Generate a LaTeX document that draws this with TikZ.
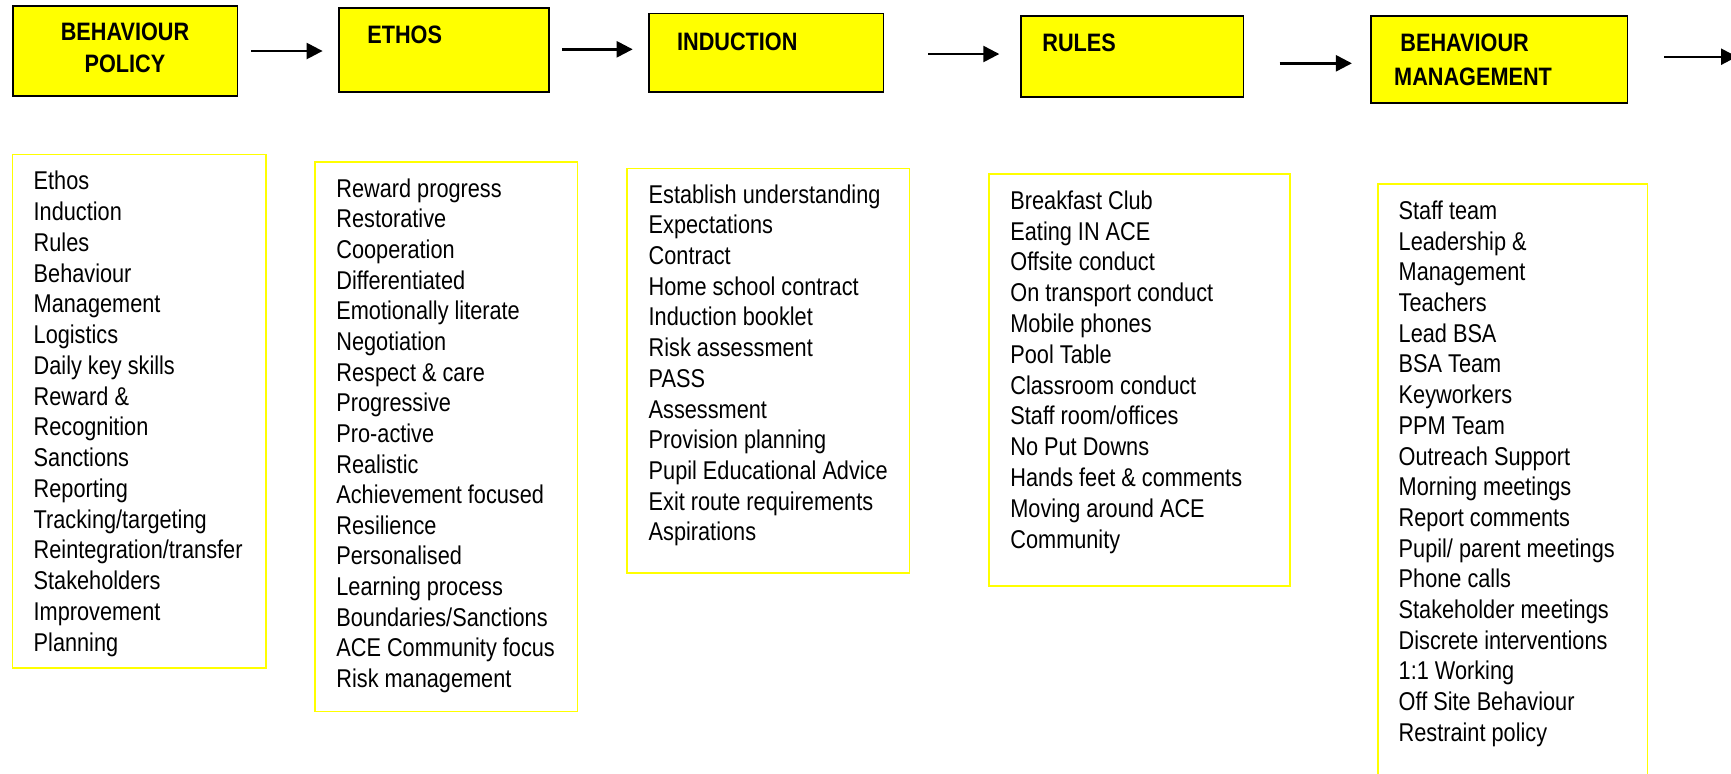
\documentclass[tikz,border=0pt]{standalone}
\usepackage{fontspec}
\setmainfont{Liberation Sans}
\newfontfamily\bodyfont[FakeStretch=0.845]{Liberation Sans}
\newfontfamily\headfont[FakeStretch=0.86]{Liberation Sans}
\usetikzlibrary{fit,arrows.meta}
\definecolor{hyellow}{HTML}{FFFF00}
\begin{document}
\begin{tikzpicture}[x=0.5pt,y=-0.5pt,
  hbox/.style={draw=black, line width=0.8pt, fill=hyellow, inner sep=0pt},
  lbox/.style={draw=hyellow, line width=0.8pt, inner sep=0pt},
  htext/.style={font=\headfont\bfseries\fontsize{12.6pt}{15pt}\selectfont, inner sep=0pt},
  item/.style={font=\bodyfont\fontsize{12.85pt}{15pt}\selectfont, inner sep=0pt, anchor=base west},
  flow/.style={line width=1.2pt, -{Triangle[length=8pt,width=8pt]}}]
\useasboundingbox (0,0) rectangle (1731,773);

% header boxes
\node[hbox, fit={(12.7,5.7) (237.3,96)}] (bp) {};
\node[htext, anchor=base] (bpt1) at (125,40.7) {BEHAVIOUR};
\node[htext, anchor=base] (bpt2) at (125,72.7) {POLICY};
\node[hbox, fit={(338.7,7.7) (549.2,92)}] (eth) {};
\node[htext, anchor=base west] (etht) at (367,43.3) {ETHOS};
\node[hbox, fit={(648.8,13.3) (883.4,92)}] (ind) {};
\node[htext, anchor=base west] (indt) at (676.7,50) {INDUCTION};
\node[hbox, fit={(1021,15.7) (1243.4,96.7)}] (rul) {};
\node[htext, anchor=base west] (rult) at (1042,51.7) {RULES};
\node[hbox, fit={(1371.2,15.7) (1627.5,103)}] (bm) {};
\node[htext, anchor=base west] (bmt1) at (1400,51.7) {BEHAVIOUR};
\node[htext, anchor=base west] (bmt2) at (1393.8,85) {MANAGEMENT};

% arrows
\coordinate (a1s) at (251.4,51);   \coordinate (a1e) at (322.6,51);
\coordinate (a2s) at (561.9,49.3); \coordinate (a2e) at (632.7,49.3);
\coordinate (a3s) at (928.2,54);   \coordinate (a3e) at (999.3,54);
\coordinate (a4s) at (1279.7,63.3);\coordinate (a4e) at (1351.9,63.3);
\coordinate (a5s) at (1664,56.7);  \coordinate (a5e) at (1737,56.7);
\draw[flow] (a1s) -- (a1e);
\draw[flow] (a2s) -- (a2e);
\draw[flow] (a3s) -- (a3e);
\draw[flow] (a4s) -- (a4e);
\draw[flow] (a5s) -- (a5e);

% list boxes
\node[lbox, fit={(12.3,154.5) (265.7,668)}] (l1) {};
\node[lbox, fit={(315,162.2) (577.3,711.6)}] (l2) {};
\node[lbox, fit={(626.7,168.3) (909.3,572.7)}] (l3) {};
\node[lbox, fit={(989,174) (1290,586)}] (l4) {};
\node[lbox, fit={(1377.7,184.2) (1647.3,790)}] (l5) {};

\foreach \t [count=\i] in {Ethos, Induction, Rules, Behaviour, Management, Logistics, Daily key skills, Reward \&, Recognition, Sanctions, Reporting, Tracking/targeting, Reintegration/transfer, Stakeholders, Improvement, Planning}
  \node[item] (p\i) at (33.3,{189.9+(\i-1)*30.74}) {\t};

\foreach \t [count=\i] in {Reward progress, Restorative, Cooperation, Differentiated, Emotionally literate, Negotiation, Respect \& care, Progressive, Pro-active, Realistic, Achievement focused, Resilience, Personalised, Learning process, Boundaries/Sanctions, ACE Community focus, Risk management}
  \node[item] (e\i) at (336,{197.3+(\i-1)*30.64}) {\t};

\foreach \t [count=\i] in {Establish understanding, Expectations, Contract, Home school contract, Induction booklet, Risk assessment, PASS, Assessment, Provision planning, Pupil Educational Advice, Exit route requirements, Aspirations}
  \node[item] (n\i) at (648.3,{203.3+(\i-1)*30.67}) {\t};

\foreach \t [count=\i] in {Breakfast Club, Eating IN ACE, Offsite conduct, On transport conduct, Mobile phones, Pool Table, Classroom conduct, Staff room/offices, No Put Downs, Hands feet \& comments, Moving around ACE, Community}
  \node[item] (r\i) at (1010,{209.3+(\i-1)*30.8}) {\t};

\foreach \t [count=\i] in {Staff team, Leadership \&, Management, Teachers, Lead BSA, BSA Team, Keyworkers, PPM Team, Outreach Support, Morning meetings, Report comments, Pupil/ parent meetings, Phone calls, Stakeholder meetings, Discrete interventions, 1:1 Working, Off Site Behaviour, Restraint policy}
  \node[item] (m\i) at (1398.3,{219.4+(\i-1)*30.7}) {\t};
\end{tikzpicture}
\end{document}
